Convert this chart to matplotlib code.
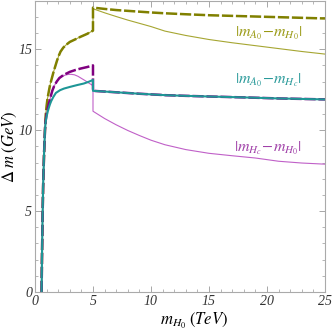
import numpy as np
import matplotlib
matplotlib.use("Agg")
import matplotlib.pyplot as plt
from matplotlib.ticker import MultipleLocator

# =========================
# Curves (x in TeV, y in GeV)
# =========================
# rising branch shared by all curves
x_base = [0.57, 0.60, 0.65, 0.70, 0.78, 0.86]
y_base = [0.0, 2.0, 4.5, 6.5, 8.5, 10.0]

# |m_A0 - m_H0|
x_a0h0_lo = x_base + [0.92, 1.0, 1.08, 1.18, 1.3, 1.45, 1.6, 1.75, 1.9, 2.05, 2.2,
                      2.44, 2.7, 3.0, 3.5, 3.9, 4.5, 5.0]
y_a0h0_lo = y_base + [10.9, 11.5, 11.95, 12.35, 12.8, 13.2, 13.6, 13.95, 14.3, 14.6,
                      14.85, 15.1, 15.28, 15.45, 15.62, 15.76, 15.95, 16.15]
x_a0h0_hi = [5.0, 6.0, 7.0, 8.0, 9.0, 10.0, 11.2, 13.0, 15.0, 17.0, 19.0, 21.0, 23.0, 25.0]
y_a0h0_hi = [17.57, 17.49, 17.42, 17.37, 17.32, 17.27, 17.22, 17.16, 17.1, 17.06,
             17.02, 16.98, 16.94, 16.9]
y_a0h0_thin = [17.5, 17.25, 17.02, 16.8, 16.6, 16.4, 16.12, 15.85, 15.6, 15.4, 15.22,
               15.04, 14.86, 14.7]

# |m_Hc - m_H0|
x_hch0_lo = x_base + [0.92, 1.0, 1.1, 1.2, 1.29, 1.4, 1.5, 1.65, 1.87, 2.1, 2.44, 3.0,
                      3.5, 3.9, 4.5, 5.0]
y_hch0_lo = y_base + [10.6, 11.0, 11.35, 11.65, 11.9, 12.2, 12.45, 12.72, 13.0, 13.22,
                      13.4, 13.6, 13.72, 13.8, 13.9, 14.0]
x_hch0_thin_lo = x_hch0_lo[:17] + [2.3, 2.6, 2.85, 3.1, 3.4, 3.7, 4.0, 4.3, 4.6, 5.0]
y_hch0_thin_lo = y_hch0_lo[:17] + [13.3, 13.4, 13.44, 13.45, 13.42, 13.33, 13.2,
                                   13.07, 12.93, 12.75]
x_hch0_thin_hi = [5.0, 6.0, 7.0, 8.0, 9.0, 10.0, 11.2, 13.0, 15.0, 17.0, 19.0, 21.0,
                  23.0, 25.0]
y_hch0_thin_hi = [11.17, 10.72, 10.33, 9.98, 9.67, 9.38, 9.1, 8.8, 8.57, 8.42, 8.28,
                  8.08, 7.97, 7.9]

# |m_A0 - m_Hc|
x_a0hc_lo = x_base + [0.92, 1.0, 1.1, 1.2, 1.29, 1.4, 1.58, 1.8, 2.16, 2.5, 3.0, 3.6,
                      4.2, 4.6, 5.0]
y_a0hc_lo = y_base + [10.5, 10.85, 11.15, 11.4, 11.6, 11.8, 12.05, 12.3, 12.47, 12.57,
                      12.67, 12.78, 12.88, 12.98, 13.1]
x_a0hc_hi = [5.0, 7.0, 9.0, 11.3, 13.0, 15.0, 18.2, 21.0, 25.0]
y_a0hc_hi = [12.43, 12.34, 12.25, 12.16, 12.12, 12.08, 12.02, 11.96, 11.9]

olive = "#808000"
olive_thin = "#a6a632"
purple = "#800080"
purple_thin = "#c060c8"
teal = "#1e9696"

plt.rcParams["font.family"] = "Liberation Serif"
plt.rcParams["mathtext.fontset"] = "stix"

fig = plt.figure(figsize=(3.32, 3.30), dpi=100)
ax = fig.add_axes([0.1054, 0.115, 0.8735, 0.883])


def join(xl, yl, xh, yh):
    return list(xl) + list(xh), list(yl) + list(yh)


# thin lines
ax.plot(*join(x_a0h0_lo, y_a0h0_lo, x_a0h0_hi, y_a0h0_thin), color=olive_thin, lw=0.8)
ax.plot(*join(x_hch0_thin_lo, y_hch0_thin_lo, x_hch0_thin_hi, y_hch0_thin_hi),
        color=purple_thin, lw=0.8)

# thick dashed lines
ax.plot(*join(x_a0h0_lo, y_a0h0_lo, x_a0h0_hi, y_a0h0_hi), color=olive, lw=1.8,
        dashes=(4.5, 1.1))
ax.plot(*join(x_hch0_lo, y_hch0_lo, x_a0hc_hi, y_a0hc_hi), color=purple, lw=1.8,
        dashes=(4.5, 1.1))
ax.plot(*join(x_a0hc_lo, y_a0hc_lo, x_a0hc_hi, y_a0hc_hi), color=teal, lw=1.5)

# labels
ax.text(20.1, 16.0, r"$|m_{A_0}\!-\!m_{H_0}|$", color="#9a9a14", fontsize=11.5,
        ha="center", va="center")
ax.text(20.1, 13.1, r"$|m_{A_0}\!-\!m_{H_c}|$", color="#2a9a9a", fontsize=11.5,
        ha="center", va="center")
ax.text(20.1, 8.9, r"$|m_{H_c}\!-\!m_{H_0}|$", color="#a040a8", fontsize=11.5,
        ha="center", va="center")

ax.set_xlim(0, 25)
ax.set_ylim(0, 18)
ax.xaxis.set_major_locator(MultipleLocator(5))
ax.xaxis.set_minor_locator(MultipleLocator(1))
ax.yaxis.set_major_locator(MultipleLocator(5))
ax.yaxis.set_minor_locator(MultipleLocator(1))
ax.tick_params(which="both", direction="in", top=True, right=True, color="#999999",
               labelsize=10, labelcolor="#333333", pad=2)
ax.tick_params(which="major", length=4, width=0.6)
ax.tick_params(which="minor", length=2, width=0.5)
for lab in ax.get_xticklabels() + ax.get_yticklabels():
    lab.set_fontstyle("italic")
for s in ax.spines.values():
    s.set_color("#aaaaaa")
    s.set_linewidth(0.8)

ax.set_xlabel(r"$m_{H_0}\;(TeV)$", fontsize=12)
ax.set_ylabel(r"$\Delta\; m\;(GeV)$", fontsize=12)
ax.xaxis.set_label_coords(0.55, -0.065)
ax.yaxis.set_label_coords(-0.055, 0.5)

fig.savefig("out.png", dpi=100)
